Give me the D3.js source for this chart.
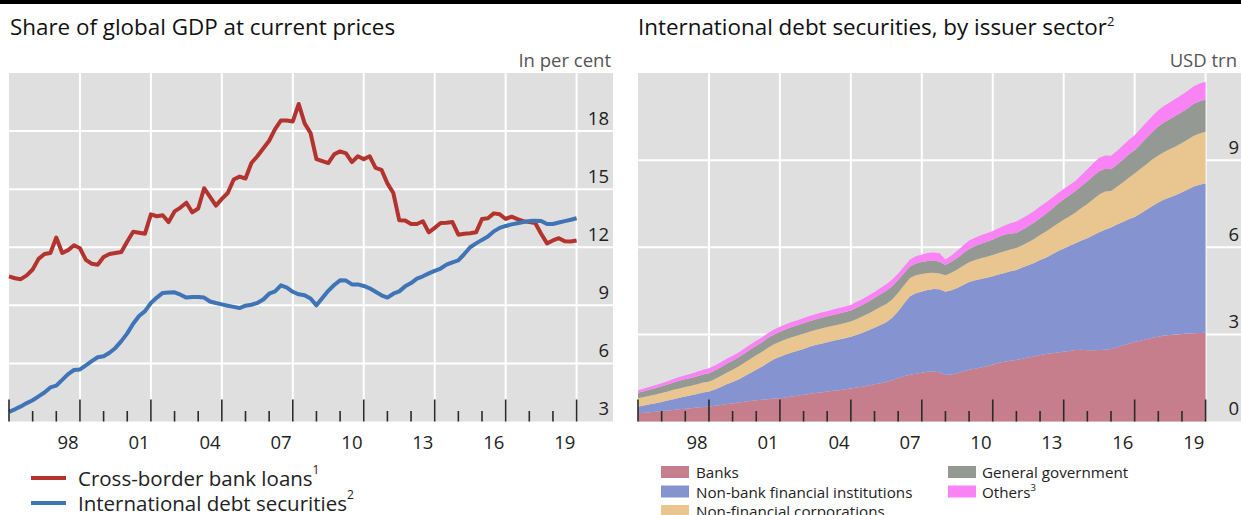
<!DOCTYPE html>
<html><head><meta charset="utf-8">
<script src="https://cdn.jsdelivr.net/npm/d3@7/dist/d3.min.js"></script>
<style>
body{margin:0;background:#fff}
svg{display:block}
text{font-family:"Open Sans","Noto Sans",sans-serif}
</style>
</head><body>
<svg id="chart" width="1241" height="515"></svg>
<script>
// ---------- DATA (quarterly, first point at start of 1996, last at end of 2019) ----------
const firstYear = 1996;
const lastYear = 2020;

const crossBorderLoans = [
10.5,10.4,10.35,10.55, 10.85,11.4,11.65,11.7, 12.5,11.7,11.85,12.1, 11.95,11.35,11.15,11.1,
11.5,11.65,11.7,11.75, 12.3,12.8,12.75,12.7, 13.7,13.6,13.65,13.3, 13.85,14.05,14.3,13.8,
14.0,15.05,14.6,14.15, 14.5,14.8,15.5,15.65, 15.55,16.35,16.7,17.1, 17.5,18.1,18.55,18.55,
18.5,19.4,18.4,17.9, 16.55,16.45,16.35,16.8, 16.95,16.85,16.4,16.7, 16.55,16.7,16.1,16.0,
15.3,14.8,13.4,13.38, 13.2,13.2,13.34,12.77, 13.0,13.25,13.27,13.3, 12.65,12.7,12.72,12.77,
13.46,13.5,13.75,13.7, 13.46,13.58,13.45,13.35, 13.3,13.25,12.7,12.2, 12.35,12.47,12.31,12.3,
12.35];

const intlDebtSecurities = [
3.5,3.63,3.78,3.95, 4.1,4.3,4.5,4.76, 4.85,5.15,5.45,5.66, 5.69,5.9,6.12,6.32,
6.37,6.55,6.8,7.15, 7.55,8.05,8.45,8.7, 9.12,9.4,9.64,9.66, 9.67,9.55,9.4,9.43,
9.43,9.4,9.2,9.12, 9.05,8.98,8.92,8.86, 8.98,9.03,9.12,9.3, 9.6,9.72,10.03,9.92,
9.7,9.57,9.52,9.35, 9.0,9.38,9.75,10.05, 10.29,10.28,10.08,10.08, 10.0,9.88,9.7,9.52,
9.4,9.6,9.72,9.98, 10.15,10.38,10.5,10.65, 10.78,10.9,11.1,11.22, 11.32,11.65,12.0,12.2,
12.38,12.55,12.82,13.0, 13.1,13.18,13.24,13.3, 13.35,13.37,13.36,13.2, 13.2,13.28,13.35,13.42,
13.5];

const banks = [
0.28,0.30,0.32,0.34, 0.36,0.38,0.40,0.42, 0.44,0.46,0.48,0.50, 0.51,0.54,0.57,0.60,
0.62,0.65,0.68,0.71, 0.73,0.75,0.77,0.79, 0.80,0.83,0.86,0.89, 0.92,0.95,0.98,1.00,
1.03,1.06,1.08,1.11, 1.14,1.17,1.20,1.24, 1.28,1.32,1.36,1.42, 1.50,1.56,1.61,1.64,
1.68,1.71,1.72,1.70, 1.60,1.62,1.66,1.72, 1.78,1.82,1.86,1.90, 1.96,2.02,2.06,2.09,
2.12,2.16,2.20,2.24, 2.29,2.32,2.35,2.38, 2.40,2.43,2.46,2.47, 2.45,2.45,2.46,2.47,
2.50,2.56,2.62,2.68, 2.74,2.78,2.83,2.88, 2.92,2.96,2.98,3.00, 3.01,3.03,3.04,3.05,
3.06];

const nonBankFinancial = [
0.23,0.25,0.27,0.29, 0.31,0.34,0.37,0.40, 0.42,0.44,0.47,0.50, 0.52,0.56,0.62,0.68,
0.74,0.80,0.88,0.96, 1.05,1.14,1.25,1.35, 1.43,1.48,1.52,1.55, 1.58,1.62,1.65,1.68,
1.70,1.72,1.74,1.76, 1.78,1.82,1.86,1.90, 1.95,2.00,2.06,2.15, 2.30,2.50,2.70,2.78,
2.80,2.82,2.84,2.85, 2.87,2.90,2.94,2.98, 3.02,3.04,3.05,3.05, 3.04,3.04,3.05,3.08,
3.10,3.14,3.18,3.22, 3.27,3.32,3.40,3.48, 3.56,3.62,3.68,3.76, 3.86,3.96,4.06,4.13,
4.18,4.22,4.25,4.28, 4.30,4.38,4.46,4.54, 4.62,4.68,4.74,4.80, 4.88,4.96,5.05,5.10,
5.14];

const nonFinancialCorps = [
0.29,0.29,0.30,0.30, 0.31,0.31,0.32,0.32, 0.33,0.33,0.33,0.34, 0.34,0.36,0.38,0.40,
0.42,0.44,0.46,0.48, 0.50,0.51,0.52,0.52, 0.52,0.52,0.52,0.52, 0.52,0.52,0.52,0.52,
0.52,0.52,0.52,0.52, 0.52,0.54,0.56,0.58, 0.60,0.62,0.63,0.63, 0.63,0.63,0.63,0.62,
0.60,0.58,0.56,0.55, 0.57,0.60,0.63,0.66, 0.68,0.70,0.71,0.72, 0.73,0.74,0.75,0.75,
0.75,0.77,0.79,0.82, 0.86,0.90,0.93,0.96, 0.99,1.02,1.06,1.12, 1.18,1.24,1.30,1.32,
1.26,1.30,1.36,1.43, 1.50,1.54,1.57,1.60, 1.62,1.64,1.66,1.68, 1.70,1.72,1.75,1.77,
1.78];

const generalGovernment = [
0.19,0.20,0.21,0.22, 0.23,0.24,0.25,0.26, 0.27,0.27,0.28,0.28, 0.29,0.30,0.30,0.31,
0.31,0.32,0.32,0.33, 0.33,0.33,0.34,0.34, 0.34,0.35,0.35,0.35, 0.36,0.36,0.36,0.37,
0.37,0.37,0.38,0.38, 0.38,0.39,0.40,0.41, 0.42,0.44,0.45,0.46, 0.44,0.42,0.40,0.40,
0.41,0.42,0.42,0.40, 0.35,0.38,0.40,0.43, 0.46,0.48,0.50,0.52, 0.54,0.56,0.57,0.55,
0.52,0.53,0.55,0.57, 0.58,0.61,0.64,0.67, 0.70,0.72,0.74,0.76, 0.78,0.80,0.80,0.78,
0.75,0.76,0.78,0.80, 0.80,0.85,0.90,0.95, 1.00,1.02,1.04,1.06, 1.07,1.08,1.10,1.11,
1.11];

const others = [
0.09,0.10,0.10,0.11, 0.11,0.12,0.12,0.13, 0.13,0.14,0.15,0.16, 0.17,0.17,0.17,0.17,
0.17,0.17,0.17,0.17, 0.17,0.17,0.17,0.17, 0.17,0.17,0.18,0.18, 0.18,0.18,0.18,0.18,
0.18,0.19,0.19,0.19, 0.19,0.20,0.20,0.21, 0.21,0.22,0.23,0.23, 0.23,0.23,0.24,0.25,
0.26,0.27,0.28,0.29, 0.19,0.22,0.25,0.27, 0.29,0.29,0.29,0.29, 0.29,0.29,0.32,0.36,
0.40,0.40,0.40,0.40, 0.40,0.39,0.38,0.37, 0.36,0.35,0.35,0.38, 0.42,0.44,0.46,0.46,
0.46,0.47,0.49,0.50, 0.52,0.53,0.54,0.55, 0.56,0.57,0.57,0.58, 0.59,0.60,0.60,0.61,
0.61];

const xTickLabels = ["98","01","04","07","10","13","16","19"];
const xTickLabelYears = [1998,2001,2004,2007,2010,2013,2016,2019];
const leftYTicks = [3,6,9,12,15,18];
const rightYTicks = [0,3,6,9];

const sectorNames = ["Banks","Non-bank financial institutions","Non-financial corporations","General government","Others"];
const sectorColors = ["#c67d8c","#8593d0","#e9c690","#949993","#f982f5"];

// ---------- BUILD ----------
const dates = crossBorderLoans.map((_, i) => firstYear + i / 4);
const svg = d3.select("#chart");
const BG = "#dfdfdf", TXT = "#222", TICK = "#2a2a2a";

svg.append("rect").attr("x",0).attr("y",0).attr("width",1241).attr("height",4).attr("fill","#000");

function panel(opt){
  const g = svg.append("g");
  const x = d3.scaleLinear([firstYear,lastYear],[opt.x0,opt.x1]);
  const y = d3.scaleLinear(opt.yDomain,[421.5,73]);
  g.append("rect").attr("x",opt.x0).attr("y",73).attr("width",opt.bgRight-opt.x0).attr("height",421.5-73).attr("fill",BG);
  g.selectAll(".hg").data(opt.yTicks.filter(v=>v>opt.yDomain[0])).join("line")
    .attr("x1",opt.x0).attr("x2",opt.bgRight).attr("y1",d=>y(d)).attr("y2",d=>y(d))
    .attr("stroke","#fff").attr("stroke-width",2);
  const majors = d3.range(firstYear+3,lastYear+1,3);
  g.selectAll(".vg").data(majors).join("line")
    .attr("x1",d=>x(d)).attr("x2",d=>x(d)).attr("y1",73).attr("y2",421.5)
    .attr("stroke","#fff").attr("stroke-width",2);
  opt.draw(g,x,y);
  const years = d3.range(firstYear,lastYear+1);
  g.selectAll(".tk").data(years).join("line")
    .attr("x1",d=>x(d)).attr("x2",d=>x(d))
    .attr("y1",421.5).attr("y2",d=>(d-firstYear)%3===0?399.5:411)
    .attr("stroke",TICK).attr("stroke-width",1.6);
  g.selectAll(".xl").data(xTickLabelYears).join("text")
    .attr("x",d=>x(d+0.5)).attr("y",441).attr("text-anchor","middle").attr("dominant-baseline","central")
    .attr("font-size",18.5).attr("fill",TXT).text((d,i)=>xTickLabels[i]);
  g.selectAll(".yl").data(opt.yTicks).join("text")
    .attr("x",opt.labelX).attr("y",d=>y(d)-14).attr("text-anchor","end").attr("dominant-baseline","central")
    .attr("font-size",18.5).attr("fill",TXT).text(d=>d);
  g.append("text").attr("x",opt.unitX).attr("y",67).attr("text-anchor","end")
    .attr("font-size",18.5).attr("fill","#555").text(opt.unit);
  const t = g.append("text").attr("x",opt.titleX).attr("y",35).attr("font-size",22.4).attr("fill","#111").text(opt.title);
  if(opt.titleSup) t.append("tspan").attr("dy",-9).attr("font-size",13).text(opt.titleSup);
}

panel({
  x0:9, x1:576.6, bgRight:613, yDomain:[3,21], yTicks:leftYTicks, labelX:609, unitX:611,
  unit:"In per cent", title:"Share of global GDP at current prices", titleX:10,
  draw:(g,x,y)=>{
    const line = d3.line().x((d,i)=>x(dates[i])).y(d=>y(d));
    g.append("path").datum(crossBorderLoans).attr("d",line).attr("fill","none")
      .attr("stroke","#b3342f").attr("stroke-width",4).attr("stroke-linejoin","round");
    g.append("path").datum(intlDebtSecurities).attr("d",line).attr("fill","none")
      .attr("stroke","#3f74b6").attr("stroke-width",4).attr("stroke-linejoin","round");
  }
});

panel({
  x0:638, x1:1205.6, bgRight:1241, yDomain:[0,12], yTicks:rightYTicks, labelX:1239, unitX:1237,
  unit:"USD trn", title:"International debt securities, by issuer sector", titleSup:"2", titleX:638,
  draw:(g,x,y)=>{
    const series = [banks,nonBankFinancial,nonFinancialCorps,generalGovernment,others];
    const rows = dates.map((d,i)=>{const r={date:d}; series.forEach((s,j)=>r["k"+j]=s[i]); return r;});
    const stack = d3.stack().keys(series.map((_,j)=>"k"+j))(rows);
    const area = d3.area().x(d=>x(d.data.date)).y0(d=>y(d[0])).y1(d=>y(d[1]));
    g.selectAll(".ar").data(stack).join("path").attr("d",area).attr("fill",(d,i)=>sectorColors[i]);
  }
});

// ---------- LEGENDS ----------
const leftLegend = [
  {name:"Cross-border bank loans", sup:"1", color:"#b3342f", y:478},
  {name:"International debt securities", sup:"2", color:"#3f74b6", y:503}
];
leftLegend.forEach(d=>{
  svg.append("line").attr("x1",31).attr("x2",66).attr("y1",d.y).attr("y2",d.y)
    .attr("stroke",d.color).attr("stroke-width",4);
  const t = svg.append("text").attr("x",78).attr("y",d.y).attr("dominant-baseline","central")
    .attr("font-size",20.5).attr("fill",TXT).text(d.name);
  t.append("tspan").attr("dy",-9).attr("font-size",12).text(d.sup);
});

const sups = ["","","","","3"];
sectorNames.forEach((n,i)=>{
  const col = i<3?0:1, row = i<3?i:i-3;
  const sx = col===0?661:948, tx = col===0?696:982;
  const yy = 472 + row*19.5;
  svg.append("rect").attr("x",sx).attr("y",yy-6).attr("width",28).attr("height",12).attr("fill",sectorColors[i]);
  const t = svg.append("text").attr("x",tx).attr("y",yy).attr("dominant-baseline","central")
    .attr("font-size",15.2).attr("fill",TXT).text(n);
  if(sups[i]) t.append("tspan").attr("dy",-4.5).attr("font-size",9.5).text(sups[i]);
});
</script>
</body></html>
